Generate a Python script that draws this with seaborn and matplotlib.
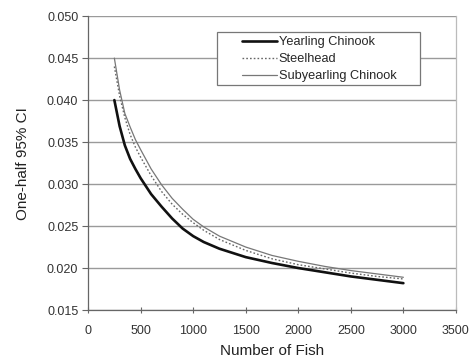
import matplotlib
matplotlib.use("Agg")
import matplotlib.pyplot as plt
from matplotlib.patches import Rectangle
import seaborn as sns
import pandas as pd

n_fish = [250, 300, 350, 400, 450, 500, 600, 700, 800, 900, 1000, 1100, 1250,
          1500, 1750, 2000, 2250, 2500, 2750, 3000]
yearling = [0.0400, 0.0369, 0.0346, 0.0330, 0.0318, 0.0307, 0.0288, 0.0273, 0.0259, 0.0247,
            0.0238, 0.0231, 0.0223, 0.0213, 0.0206, 0.0200, 0.0195, 0.0190, 0.0186, 0.0182]
steelhead = [0.0440, 0.0405, 0.0379, 0.0359, 0.0344, 0.0332, 0.0310, 0.0291, 0.0276, 0.0264,
             0.0254, 0.0245, 0.0234, 0.0221, 0.0211, 0.0204, 0.0199, 0.0194, 0.0190, 0.0187]
subyearling = [0.0450, 0.0412, 0.0384, 0.0368, 0.0353, 0.0341, 0.0318, 0.0299, 0.0283, 0.0270,
               0.0258, 0.0249, 0.0238, 0.0225, 0.0215, 0.0208, 0.0202, 0.0197, 0.0193, 0.0189]
series_names = ["Yearling Chinook", "Steelhead", "Subyearling Chinook"]
x_ticks = [0, 500, 1000, 1500, 2000, 2500, 3000, 3500]
y_ticks = [0.015, 0.020, 0.025, 0.030, 0.035, 0.040, 0.045, 0.050]

sns.set_style("white")
plt.rcParams['font.family'] = ['Liberation Sans', 'DejaVu Sans']

df = pd.DataFrame({
    "n": n_fish * 3,
    "ci": yearling + steelhead + subyearling,
    "series": [series_names[0]] * len(n_fish) + [series_names[1]] * len(n_fish) + [series_names[2]] * len(n_fish),
})

fig = plt.figure(figsize=(4.71, 3.58), dpi=100)
ax = fig.add_axes([0.187, 0.134, 0.781, 0.821])

styles = {
    series_names[0]: dict(color="#111111", lw=1.9, ls="-"),
    series_names[1]: dict(color="#666666", lw=1.0, ls=(0, (1.2, 1.5))),
    series_names[2]: dict(color="#777777", lw=0.9, ls="-"),
}
for name in series_names:
    sub = df[df["series"] == name]
    st = styles[name]
    sns.lineplot(data=sub, x="n", y="ci", ax=ax, color=st["color"], linewidth=st["lw"],
                 linestyle=st["ls"], label=name, zorder=3)

ax.set_xlim(0, 3500)
ax.set_ylim(0.015, 0.050)
ax.set_xticks(x_ticks)
ax.set_yticks(y_ticks)
ax.set_xticklabels([str(v) for v in x_ticks], fontsize=9, color="#333333")
ax.set_yticklabels([f"{v:.3f}" for v in y_ticks], fontsize=9, color="#333333")
ax.yaxis.grid(True, color="#9a9a9a", lw=1.0)
ax.xaxis.grid(False)
ax.tick_params(axis="x", direction="inout", length=5, width=0.8, color="#666666", pad=8, bottom=True)
ax.tick_params(axis="y", direction="out", length=4, width=0.8, color="#666666", pad=3, left=True)

for s in ["left", "bottom"]:
    ax.spines[s].set_color("#666666")
    ax.spines[s].set_linewidth(0.9)
ax.spines["right"].set_color("#bbbbbb")
ax.spines["right"].set_linewidth(0.9)
ax.spines["top"].set_visible(False)

ax.set_xlabel("Number of Fish", fontsize=11, color="#222222", labelpad=5)
ax.set_ylabel("One-half 95% CI", fontsize=11, color="#222222", labelpad=12)

# legend box (Excel-style wide frame)
frame = Rectangle((0.3505, 0.765), 0.5515, 0.1815, transform=ax.transAxes,
                  facecolor="white", edgecolor="#777777", lw=0.9, zorder=4.5)
ax.add_patch(frame)
leg = ax.legend(loc="upper left", bbox_to_anchor=(0.418, 0.932), fontsize=9.2,
                frameon=False, handlelength=2.75, handletextpad=0.15, borderpad=0,
                labelspacing=0.4, borderaxespad=0)
leg.set_zorder(5)

fig.savefig("out.png", dpi=100)
